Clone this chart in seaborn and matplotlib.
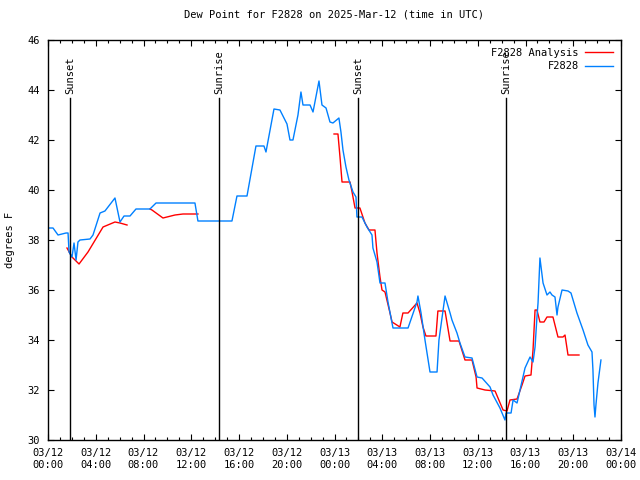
import numpy as np
import pandas as pd
import matplotlib
matplotlib.use("Agg")
import matplotlib.pyplot as plt
import matplotlib.dates as mdates
from matplotlib.lines import Line2D
import seaborn as sns

# ---------------- data ----------------
start = pd.Timestamp("2025-03-12 00:00")

# F2828 observations: hours after start, dew point (F)
obs_hours = [0.08, 0.42, 0.84, 1.51, 1.68, 1.76, 2.01, 2.18, 2.35, 2.51, 2.68, 3.52, 3.77,
             4.36, 4.77, 5.61, 6.03, 6.37, 6.87, 7.37, 8.54, 9.05, 12.31, 12.56, 15.41,
             15.83, 16.67, 17.42, 18.09, 18.26, 18.93, 19.43, 20.02, 20.27, 20.52, 20.94,
             21.19, 21.36, 21.95, 22.2, 22.7, 22.95, 23.29, 23.62, 23.87, 24.37, 24.54,
             24.71, 24.96, 25.21, 25.55, 25.8, 25.88, 26.3, 26.72, 27.14, 27.22, 27.56,
             27.81, 28.23, 28.48, 28.9, 30.16, 30.91, 30.99, 31.25, 31.58, 32.0, 32.59,
             32.75, 33.26, 33.68, 33.84, 34.26, 34.51, 34.93, 35.52, 35.94, 36.36, 37.03,
             37.28, 37.86, 38.28, 38.37, 38.79, 38.96, 39.29, 39.54, 39.96, 40.38, 40.63,
             40.8, 40.96, 41.05, 41.21, 41.47, 41.8, 42.05, 42.22, 42.47, 42.64, 42.72,
             43.06, 43.56, 43.81, 44.31, 44.82, 45.23, 45.57, 45.65, 45.74, 45.82, 45.9,
             46.07, 46.32]
obs_vals = [38.48, 38.48, 38.2, 38.28, 38.28, 37.52, 37.32, 37.88, 37.2, 37.92, 38.0, 38.04,
            38.2, 39.08, 39.16, 39.68, 38.72, 38.96, 38.96, 39.24, 39.24, 39.48, 39.48,
            38.76, 38.76, 39.76, 39.76, 41.76, 41.76, 41.52, 43.24, 43.2, 42.64, 42.0,
            42.0, 43.0, 43.92, 43.4, 43.4, 43.12, 44.36, 43.4, 43.28, 42.72, 42.68, 42.88,
            42.32, 41.6, 40.92, 40.4, 39.92, 39.72, 38.92, 38.92, 38.52, 38.2, 37.68,
            37.12, 36.28, 36.28, 35.52, 34.48, 34.48, 35.52, 35.76, 35.08, 34.0, 32.72,
            32.72, 34.0, 35.76, 35.08, 34.8, 34.28, 33.88, 33.32, 33.28, 32.52, 32.48,
            32.12, 31.8, 31.28, 30.8, 31.08, 31.08, 31.6, 31.48, 32.0, 32.88, 33.32,
            33.12, 33.72, 34.92, 35.48, 37.28, 36.28, 35.8, 35.92, 35.8, 35.72, 35.0,
            35.32, 36.0, 35.96, 35.88, 35.08, 34.4, 33.8, 33.52, 32.8, 31.4, 30.92, 31.4,
            32.28, 33.2]

# F2828 Analysis (NaN = gap)
ana_hours = [1.59, 2.01, 2.6, 3.35, 4.61, 5.61, 6.03, 6.62, 7.5,
             8.54, 8.71, 9.63, 10.64, 11.31, 12.56, 18.0,
             23.96, 24.29, 24.46, 24.63, 25.3, 25.47, 25.72, 26.13, 26.55, 26.89, 27.39,
             27.56, 27.81, 27.98, 28.23, 28.65, 28.82, 29.48, 29.73, 30.16, 30.91, 31.16,
             31.41, 31.66, 32.5, 32.66, 33.26, 33.68, 34.43, 34.93, 35.52, 35.86, 35.94,
             36.61, 37.45, 38.12, 38.45, 38.7, 39.29, 39.71, 39.96, 40.46, 40.63, 40.8,
             40.96, 41.21, 41.55, 41.8, 42.3, 42.72, 43.14, 43.31, 43.56, 44.48]
ana_vals = [37.68, 37.32, 37.04, 37.52, 38.52, 38.72, 38.68, 38.6, np.nan,
            39.24, 39.2, 38.88, 39.0, 39.04, 39.04, np.nan,
            42.24, 42.24, 41.32, 40.32, 40.32, 39.92, 39.28, 39.28, 38.68, 38.4, 38.4,
            37.48, 36.52, 36.0, 35.92, 35.08, 34.72, 34.52, 35.08, 35.08, 35.48, 35.08,
            34.52, 34.16, 34.16, 35.16, 35.16, 33.96, 33.96, 33.2, 33.2, 32.52, 32.08,
            32.0, 31.96, 31.2, 31.16, 31.6, 31.64, 32.2, 32.56, 32.6, 33.6, 35.2,
            35.2, 34.72, 34.72, 34.92, 34.92, 34.12, 34.12, 34.2, 33.4, 33.4]

event_hours = [1.84, 14.32, 25.96, 38.36]
event_labels = ["Sunset", "Sunrise", "Sunset", "Sunrise"]

title = "Dew Point for F2828 on 2025-Mar-12 (time in UTC)"
ylabel = "degrees F"
series_names = ["F2828 Analysis", "F2828"]
series_colors = ["#ff0000", "#0080ff"]

# ---------------- frames ----------------
def to_time(h):
    return start + pd.to_timedelta(np.asarray(h, dtype=float), unit="h")

obs = pd.DataFrame({"time": to_time(obs_hours), "val": obs_vals})
ana = pd.DataFrame({"time": to_time(ana_hours), "val": ana_vals})
ana["seg"] = ana["val"].isna().cumsum()
ana = ana.dropna()

# ---------------- plot ----------------
plt.rcParams["font.family"] = ["DejaVu Sans Mono"]
plt.rcParams["font.size"] = 7.5

fig = plt.figure(figsize=(6.4, 4.8), dpi=100)
ax = fig.add_axes([48 / 640, 40 / 480, 573 / 640, 400 / 480])

sns.lineplot(data=ana, x="time", y="val", units="seg", estimator=None,
             color=series_colors[0], lw=1.0, ax=ax, legend=False)
sns.lineplot(data=obs, x="time", y="val", color=series_colors[1], lw=1.0,
             ax=ax, legend=False)

ax.set_xlim(start, start + pd.Timedelta(hours=48))
ax.set_ylim(30, 46)
ax.set_yticks(np.arange(30, 47, 2))

for h, lab in zip(event_hours, event_labels):
    t = to_time([h])[0]
    ax.axvline(t, ymin=0, ymax=0.855, color="black", lw=1.0)
    ax.text(t, 0.865, lab, transform=ax.get_xaxis_transform(), rotation=90,
            ha="center", va="bottom", fontsize=7.5)

ax.xaxis.set_major_locator(mdates.HourLocator(byhour=range(0, 24, 4)))
ax.xaxis.set_minor_locator(mdates.HourLocator())
ax.xaxis.set_major_formatter(mdates.DateFormatter("%m/%d\n%H:%M"))

ax.tick_params(which="both", direction="in", top=True, right=True, colors="black",
               labelsize=7.5)
ax.tick_params(which="major", length=4.5, width=0.8, pad=6)
ax.tick_params(which="minor", length=2.5, width=0.8)
for s in ax.spines.values():
    s.set_color("black")
    s.set_linewidth(1.0)

ax.set_xlabel("")
ax.set_ylabel(ylabel, fontsize=7.5)
ax.yaxis.set_label_coords(-0.057, 0.5)
ax.set_title(title, fontsize=7.5, pad=16)

handles = [Line2D([], [], color=c, lw=1.0) for c in series_colors]
ax.legend(handles, series_names, loc="upper right", frameon=False, markerfirst=False,
          handlelength=2.7, fontsize=7.5, borderaxespad=0.35, labelspacing=0.35,
          handletextpad=0.6, borderpad=0.4)

fig.savefig("out.png", dpi=100)
